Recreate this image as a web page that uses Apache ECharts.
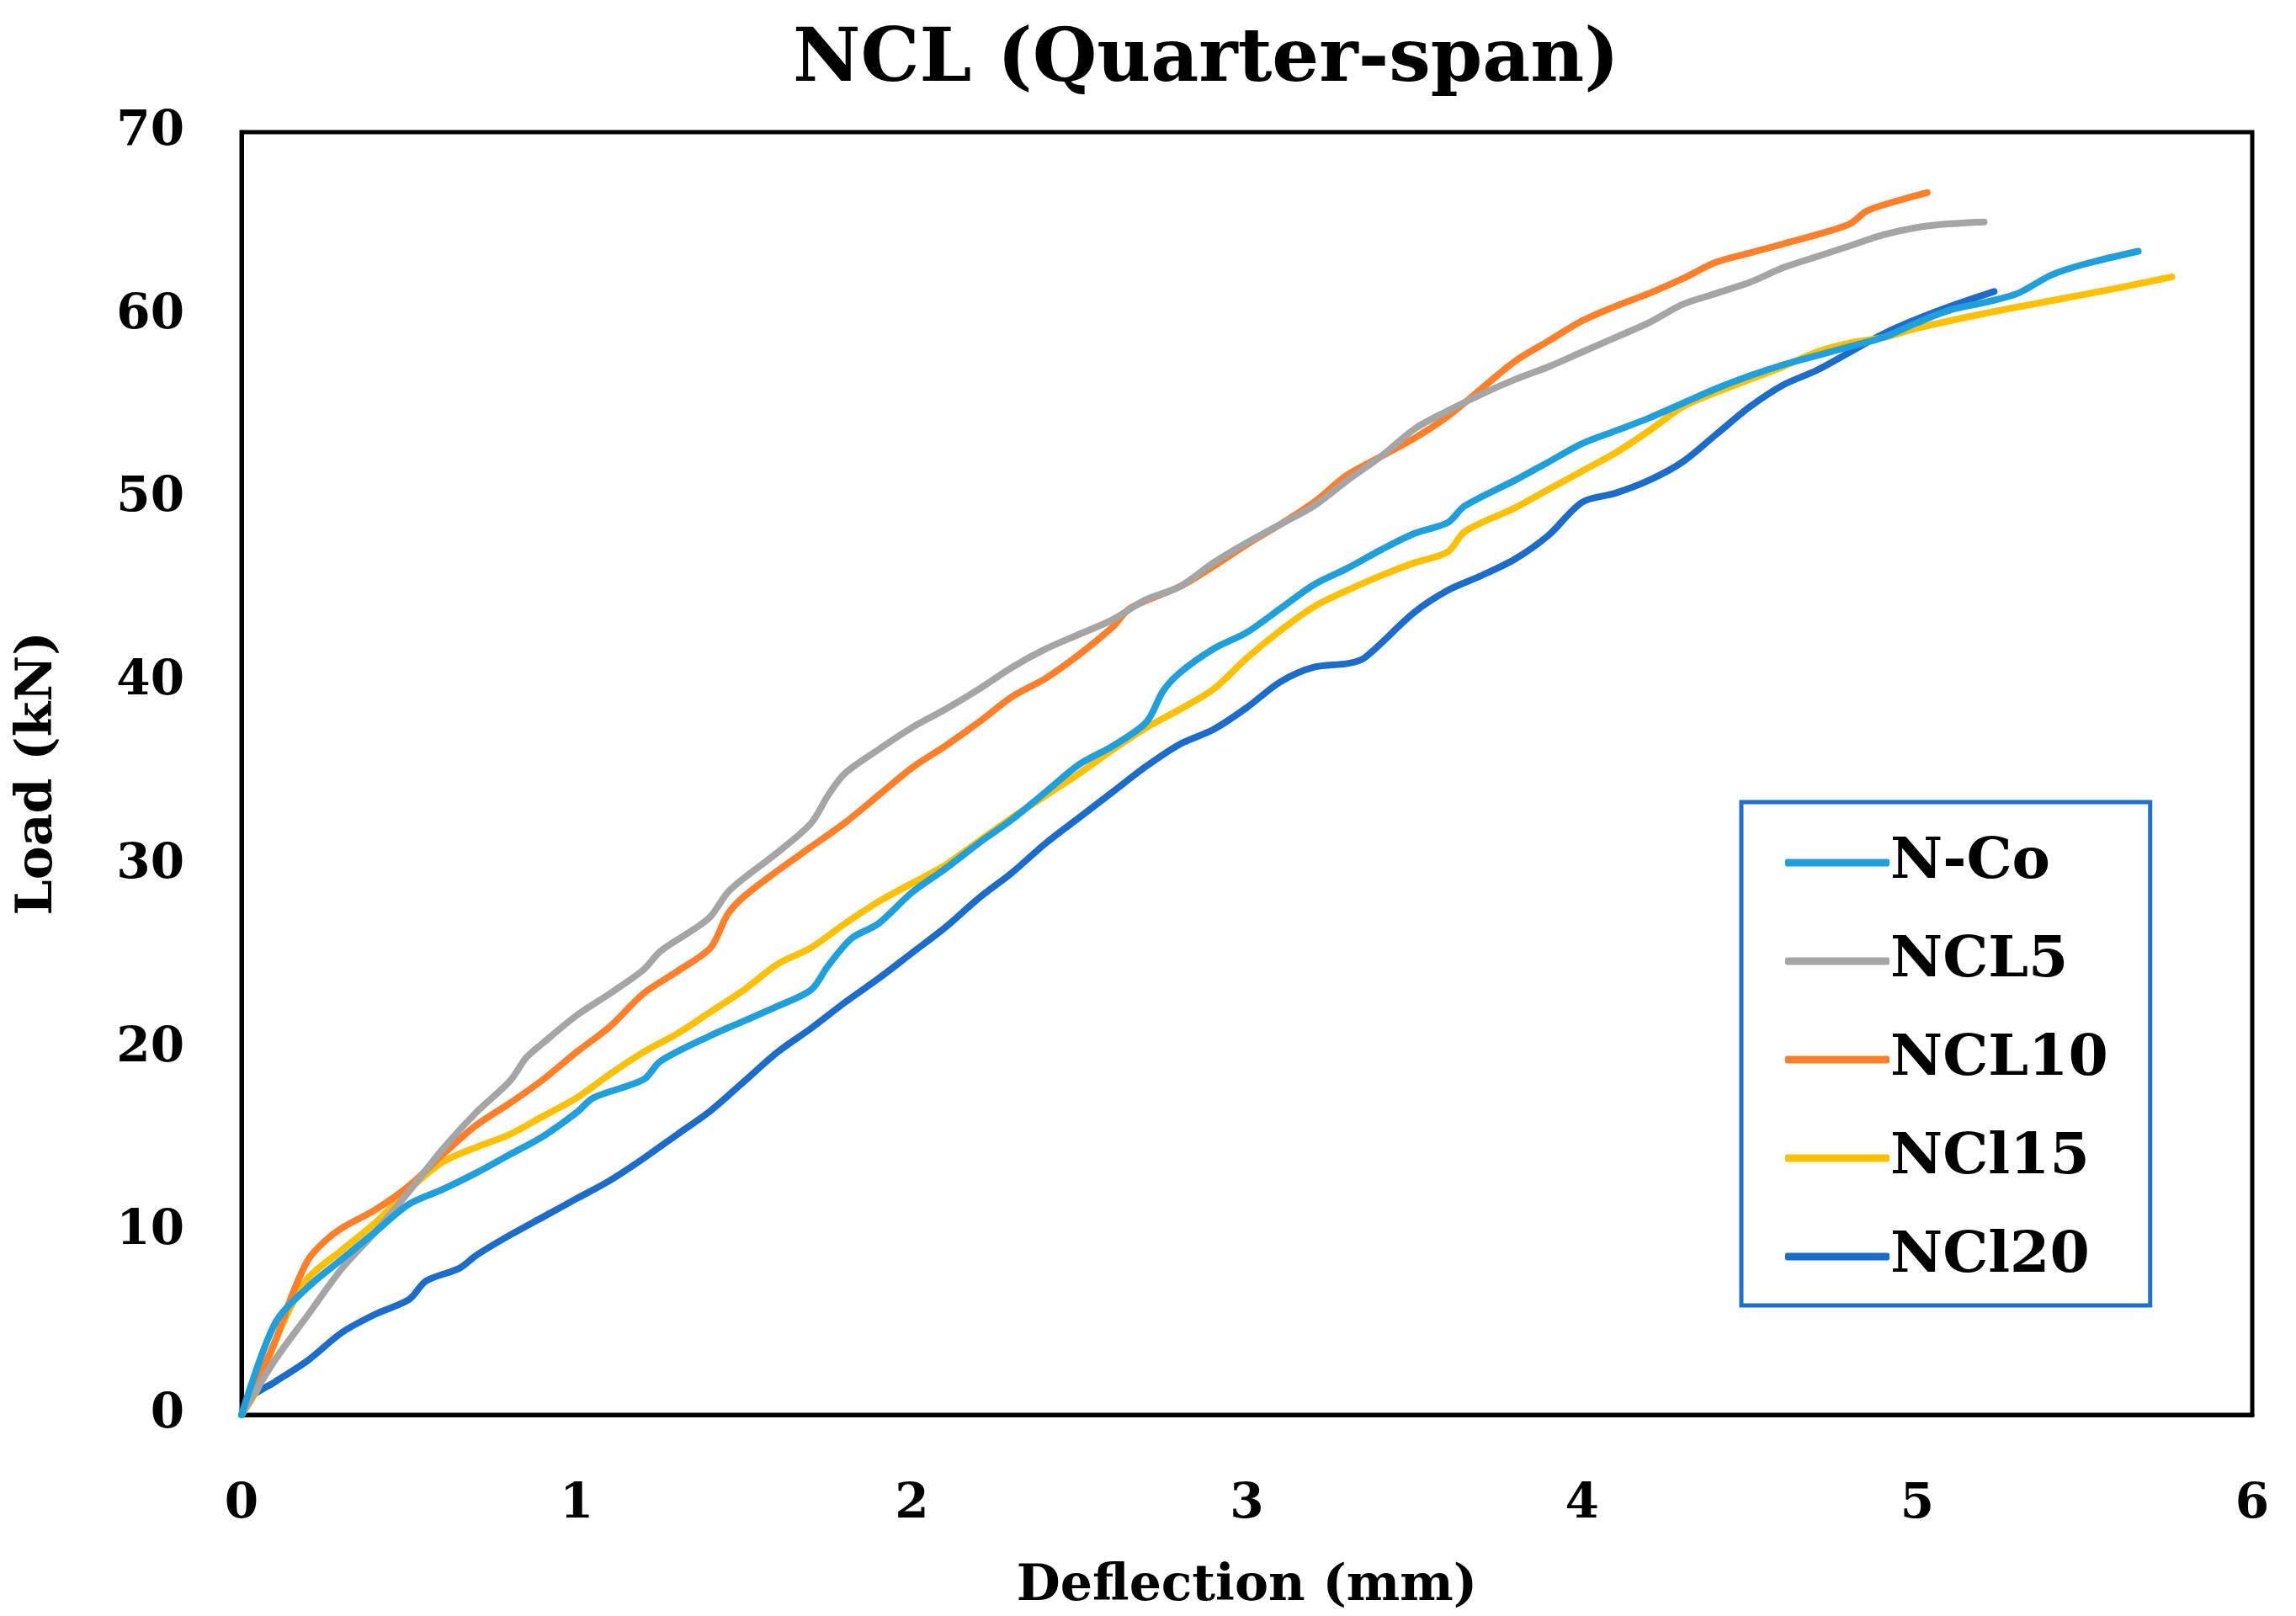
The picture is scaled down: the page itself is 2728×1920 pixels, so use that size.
<!DOCTYPE html>
<html>
<head>
<meta charset="utf-8">
<script src="https://cdn.jsdelivr.net/npm/echarts@6/dist/echarts.min.js"></script>
<style>html,body{margin:0;padding:0;background:#fff}#c{width:2728px;height:1920px}</style>
</head>
<body>
<div id="c"></div>
<script>
const seriesNames = ['N-Co', 'NCL5', 'NCL10', 'NCl15', 'NCl20'];
const colors = ['#1FA0DD', '#A5A5A5', '#FF7F2A', '#FFC000', '#1B6CCB'];

const nco_x = [0, 0.1, 0.2, 0.3, 0.4, 0.5, 0.6, 0.7, 0.8, 0.9, 1.0, 1.05, 1.2, 1.25, 1.4, 1.5, 1.6, 1.7, 1.75, 1.82, 1.9, 2.0, 2.1, 2.2, 2.3, 2.4, 2.5, 2.6, 2.7, 2.75, 2.8, 2.9, 3.0, 3.1, 3.2, 3.3, 3.4, 3.5, 3.6, 3.65, 3.8, 3.9, 4.0, 4.1, 4.2, 4.3, 4.4, 4.5, 4.6, 4.7, 4.8, 4.9, 5.0, 5.1, 5.2, 5.3, 5.4, 5.5, 5.66];
const nco_y = [0, 5.0, 7.0, 8.5, 10.0, 11.5, 12.3, 13.2, 14.2, 15.2, 16.5, 17.3, 18.3, 19.3, 20.7, 21.5, 22.3, 23.2, 24.5, 26.0, 26.8, 28.5, 29.8, 31.2, 32.5, 34.0, 35.5, 36.5, 37.8, 39.5, 40.5, 41.8, 42.7, 44.0, 45.3, 46.2, 47.2, 48.1, 48.7, 49.6, 51.0, 52.0, 53.0, 53.7, 54.4, 55.2, 56.0, 56.7, 57.3, 57.8, 58.3, 58.8, 59.6, 60.3, 60.7, 61.2, 62.2, 62.8, 63.5];

const ncl5_x = [0, 0.1, 0.2, 0.3, 0.4, 0.5, 0.6, 0.7, 0.8, 0.85, 0.9, 1.0, 1.1, 1.2, 1.25, 1.35, 1.4, 1.45, 1.5, 1.6, 1.7, 1.75, 1.8, 1.9, 2.0, 2.1, 2.2, 2.3, 2.4, 2.5, 2.6, 2.7, 2.8, 2.9, 3.0, 3.1, 3.2, 3.3, 3.4, 3.5, 3.6, 3.7, 3.8, 3.9, 4.0, 4.1, 4.2, 4.3, 4.4, 4.5, 4.6, 4.7, 4.8, 4.9, 5.0, 5.1, 5.2];
const ncl5_y = [0, 3.0, 5.5, 8.0, 10.0, 12.2, 14.5, 16.5, 18.2, 19.5, 20.3, 21.8, 23.0, 24.3, 25.3, 26.5, 27.2, 28.5, 29.3, 30.7, 32.3, 33.8, 35.0, 36.3, 37.5, 38.5, 39.6, 40.8, 41.8, 42.6, 43.4, 44.5, 45.2, 46.5, 47.6, 48.6, 49.6, 51.0, 52.3, 53.8, 54.8, 55.7, 56.5, 57.2, 58.0, 58.8, 59.6, 60.6, 61.2, 61.8, 62.6, 63.2, 63.8, 64.4, 64.8, 65.0, 65.1];

const ncl10_x = [0, 0.1, 0.15, 0.2, 0.25, 0.3, 0.4, 0.5, 0.6, 0.7, 0.8, 0.9, 1.0, 1.1, 1.2, 1.3, 1.4, 1.45, 1.5, 1.6, 1.7, 1.8, 1.9, 2.0, 2.1, 2.2, 2.3, 2.4, 2.5, 2.6, 2.65, 2.8, 2.9, 3.0, 3.1, 3.2, 3.3, 3.4, 3.5, 3.6, 3.7, 3.8, 3.9, 4.0, 4.1, 4.2, 4.3, 4.4, 4.5, 4.6, 4.7, 4.8, 4.85, 4.95, 5.03];
const ncl10_y = [0, 4.0, 6.5, 8.5, 9.5, 10.2, 11.2, 12.5, 14.2, 15.8, 17.0, 18.3, 19.8, 21.2, 23.0, 24.2, 25.5, 27.3, 28.3, 29.7, 31.0, 32.3, 33.8, 35.3, 36.5, 37.8, 39.2, 40.2, 41.5, 43.0, 44.0, 45.2, 46.3, 47.5, 48.6, 49.8, 51.3, 52.3, 53.3, 54.5, 56.0, 57.5, 58.6, 59.7, 60.5, 61.2, 62.0, 62.9, 63.4, 63.9, 64.4, 65.0, 65.7, 66.3, 66.7];

const ncl15_x = [0, 0.05, 0.1, 0.15, 0.2, 0.3, 0.4, 0.5, 0.6, 0.7, 0.8, 0.9, 1.0, 1.1, 1.2, 1.3, 1.4, 1.5, 1.6, 1.7, 1.8, 1.9, 2.0, 2.1, 2.2, 2.3, 2.4, 2.5, 2.6, 2.7, 2.8, 2.9, 3.0, 3.1, 3.2, 3.3, 3.4, 3.5, 3.6, 3.65, 3.8, 3.9, 4.0, 4.1, 4.2, 4.3, 4.4, 4.5, 4.6, 4.7, 4.8, 4.9, 5.0, 5.2, 5.4, 5.6, 5.76];
const ncl15_y = [0, 1.5, 4.0, 6.0, 7.5, 9.0, 10.5, 12.3, 13.8, 14.6, 15.3, 16.3, 17.3, 18.6, 19.8, 20.8, 22.0, 23.2, 24.6, 25.5, 26.8, 28.0, 29.0, 30.0, 31.3, 32.6, 33.8, 35.0, 36.3, 37.5, 38.5, 39.6, 41.3, 42.8, 44.1, 45.0, 45.8, 46.5, 47.1, 48.2, 49.5, 50.5, 51.5, 52.5, 53.7, 55.0, 55.8, 56.5, 57.2, 58.0, 58.5, 58.8, 59.3, 60.1, 60.8, 61.5, 62.1];

const ncl20_x = [0, 0.03, 0.1, 0.2, 0.3, 0.4, 0.5, 0.55, 0.65, 0.7, 0.8, 0.9, 1.0, 1.1, 1.2, 1.3, 1.4, 1.5, 1.6, 1.7, 1.8, 1.9, 2.0, 2.1, 2.2, 2.3, 2.4, 2.5, 2.6, 2.7, 2.8, 2.9, 3.0, 3.1, 3.2, 3.3, 3.35, 3.5, 3.6, 3.7, 3.8, 3.9, 4.0, 4.1, 4.2, 4.3, 4.4, 4.5, 4.6, 4.7, 4.8, 4.9, 5.0, 5.1, 5.23];
const ncl20_y = [0, 1.0, 1.8, 3.0, 4.5, 5.5, 6.3, 7.3, 8.0, 8.7, 9.8, 10.8, 11.8, 12.8, 14.0, 15.3, 16.6, 18.2, 19.8, 21.1, 22.5, 23.8, 25.2, 26.6, 28.2, 29.6, 31.2, 32.6, 34.0, 35.4, 36.6, 37.4, 38.6, 40.0, 40.8, 41.0, 41.3, 43.8, 45.0, 45.8, 46.7, 48.0, 49.8, 50.3, 51.0, 52.0, 53.5, 55.0, 56.2, 57.0, 58.0, 59.0, 59.8, 60.5, 61.3];

const xTicks = [0, 1, 2, 3, 4, 5, 6];
const yTicks = [0, 10, 20, 30, 40, 50, 60, 70];

const allX = [nco_x, ncl5_x, ncl10_x, ncl15_x, ncl20_x];
const allY = [nco_y, ncl5_y, ncl10_y, ncl15_y, ncl20_y];

const FONT = '"DejaVu Serif", "Liberation Serif", serif';

const chart = echarts.init(document.getElementById('c'));
chart.setOption({
  backgroundColor: '#ffffff',
  animation: false,
  color: colors,
  title: {
    text: 'NCL (Quarter-span)',
    left: 1428, top: 24, textAlign: 'center',
    textStyle: {fontFamily: FONT, fontWeight: 'bold', fontSize: 88, color: '#000'}
  },
  grid: {left: 287, right: 52, top: 157, bottom: 236, show: true, borderColor: '#000', borderWidth: 5, backgroundColor: 'transparent'},
  legend: {
    orient: 'vertical',
    left: 2069, top: 953,
    data: seriesNames,
    icon: 'roundRect',
    itemWidth: 124, itemHeight: 9,
    itemGap: 49,
    padding: [38, 50, 24, 52],
    borderColor: '#1F6FD0', borderWidth: 5,
    backgroundColor: '#fff',
    textStyle: {fontFamily: FONT, fontWeight: 'bold', fontSize: 68, color: '#000', lineHeight: 60, padding: [0, 0, 0, -4]}
  },
  xAxis: {
    type: 'value', min: 0, max: 6, interval: 1,
    name: 'Deflection (mm)', nameLocation: 'middle', nameGap: 174,
    nameTextStyle: {fontFamily: FONT, fontWeight: 'bold', fontSize: 60, color: '#000'},
    axisLine: {show: true, lineStyle: {color: '#000', width: 5}},
    axisTick: {show: false},
    splitLine: {show: false},
    axisLabel: {fontFamily: FONT, fontWeight: 'bold', fontSize: 58, color: '#000', margin: 78,
      formatter: v => xTicks.includes(v) ? String(v) : ''}
  },
  yAxis: {
    type: 'value', min: 0, max: 70, interval: 10,
    name: 'Load (kN)', nameLocation: 'middle', nameGap: 212, nameRotate: 90,
    nameTextStyle: {fontFamily: FONT, fontWeight: 'bold', fontSize: 60, color: '#000'},
    axisLine: {show: true, lineStyle: {color: '#000', width: 5}},
    axisTick: {show: false},
    splitLine: {show: false},
    axisLabel: {fontFamily: FONT, fontWeight: 'bold', fontSize: 58, color: '#000', margin: 68,
      formatter: v => yTicks.includes(v) ? String(v) : ''}
  },
  series: seriesNames.map((n, i) => ({
    name: n, type: 'line', smooth: 0.3, showSymbol: false, symbol: 'none',
    lineStyle: {width: 8, color: colors[i], cap: 'round', join: 'round'},
    itemStyle: {color: colors[i]},
    z: 10 - i,
    data: allX[i].map((x, k) => [x, allY[i][k]])
  }))
});
</script>
</body>
</html>
